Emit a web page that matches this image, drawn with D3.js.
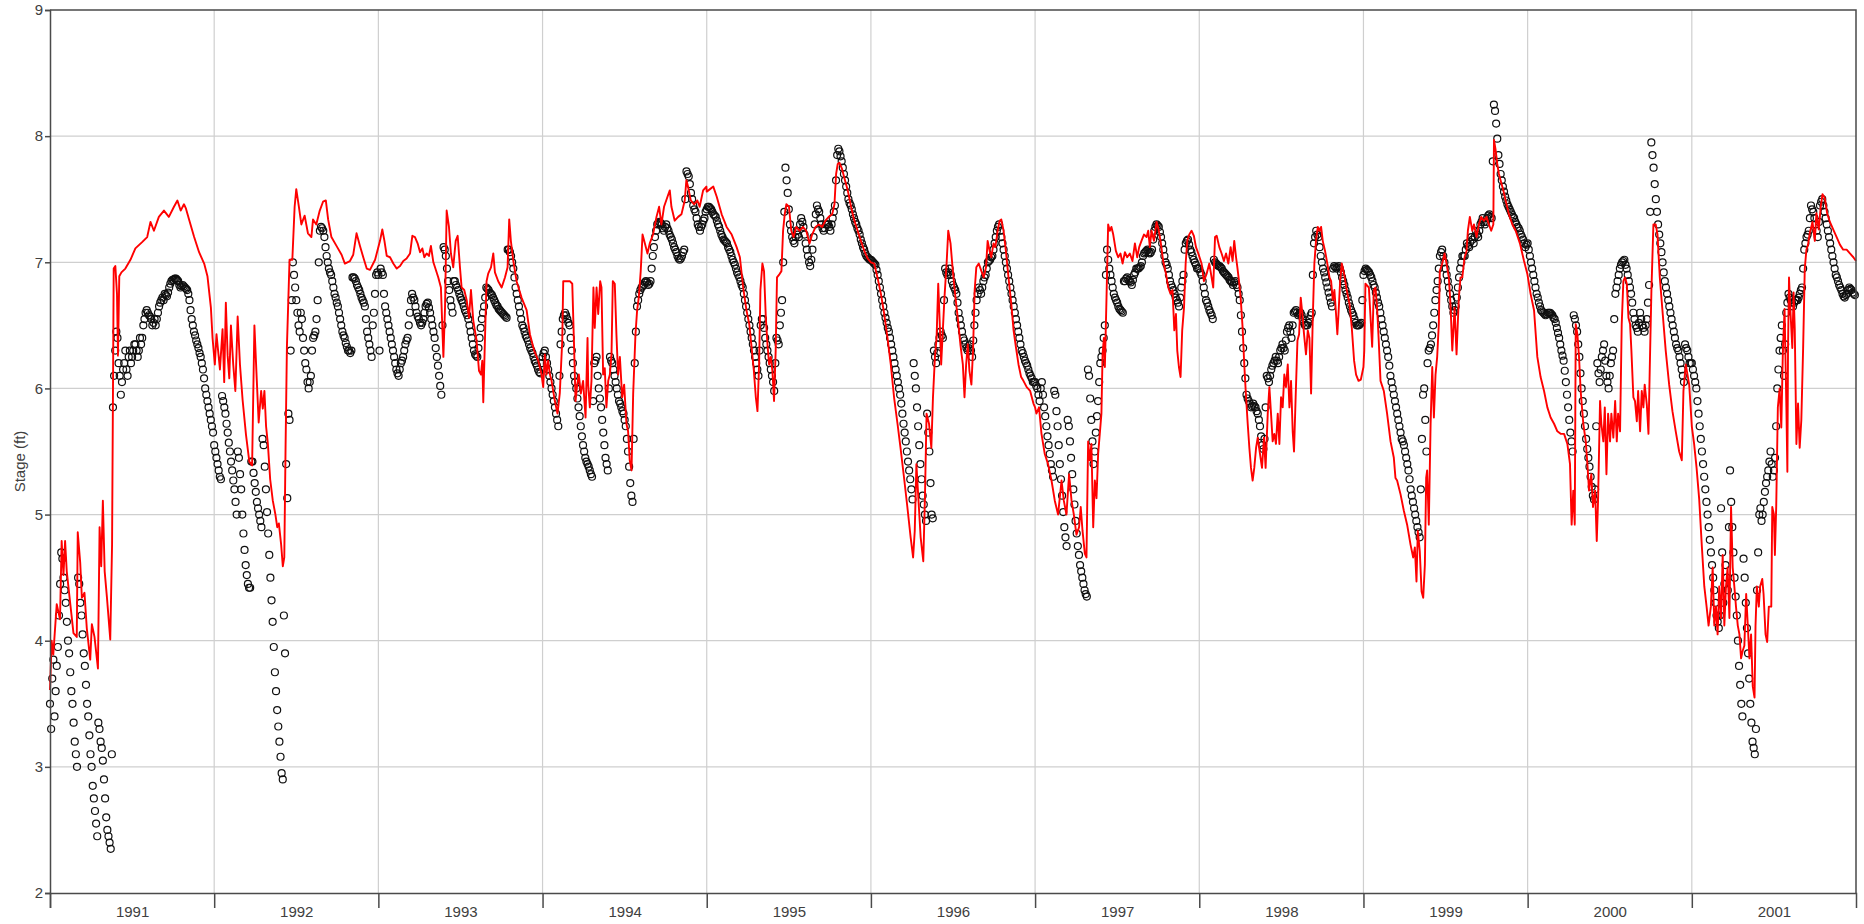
<!DOCTYPE html>
<html><head><meta charset="utf-8">
<script src="https://cdn.jsdelivr.net/npm/d3@7"></script>
<style>
html,body{margin:0;padding:0;background:#fff;}
svg{display:block;font-family:"Liberation Sans",Arial,Helvetica,sans-serif;}
</style></head><body>
<svg id="chart" width="1864" height="924"></svg>
<script>
// ---- categories / tick labels ----
const years = [1991,1992,1993,1994,1995,1996,1997,1998,1999,2000,2001];
const yTicks = [2,3,4,5,6,7,8,9];
const yLabel = "Stage (ft)";

// ---- simulated stage (red line): [fraction of year, stage ft] ----
const sim1991 = [[0,3.61],[0.010,4.0],[0.020,3.89],[0.041,4.29],[0.061,4.17],[0.071,4.79],[0.082,4.52],[0.092,4.79],[0.102,4.55],[0.122,4.31],[0.143,4.06],[0.163,4.03],[0.169,4.86],[0.184,4.62],[0.194,4.34],[0.210,4.38],[0.224,4.10],[0.245,3.85],[0.255,4.13],[0.271,4.03],[0.292,3.78],[0.302,4.90],[0.312,4.59],[0.322,5.11],[0.333,4.55],[0.347,4.34],[0.367,4.01],[0.378,4.76],[0.388,6.95],[0.398,6.97],[0.408,6.75],[0.414,6.26],[0.422,6.89],[0.435,6.92],[0.459,6.95],[0.490,7.02],[0.520,7.11],[0.561,7.16],[0.592,7.20],[0.612,7.32],[0.633,7.25],[0.663,7.36],[0.694,7.41],[0.724,7.36],[0.755,7.44],[0.776,7.49],[0.796,7.41],[0.816,7.46],[0.827,7.43],[0.847,7.34],[0.878,7.20],[0.908,7.08],[0.939,6.99],[0.959,6.89],[0.980,6.64],[0.990,6.40]];
const sim1992 = [[0.004,6.19],[0.014,6.43],[0.027,6.26],[0.035,6.15],[0.051,6.47],[0.061,6.05],[0.071,6.68],[0.082,6.26],[0.092,6.08],[0.102,6.50],[0.116,6.19],[0.129,5.98],[0.143,6.57],[0.157,6.19],[0.173,5.91],[0.194,5.63],[0.214,5.42],[0.231,5.39],[0.245,6.50],[0.259,6.08],[0.271,5.73],[0.286,5.98],[0.296,5.84],[0.306,5.98],[0.316,5.70],[0.327,5.56],[0.341,5.28],[0.357,5.11],[0.373,5.00],[0.384,4.90],[0.394,4.93],[0.408,4.76],[0.418,4.59],[0.427,4.66],[0.435,5.56],[0.443,6.33],[0.459,7.02],[0.476,7.02],[0.490,7.44],[0.500,7.58],[0.516,7.44],[0.531,7.30],[0.551,7.37],[0.571,7.23],[0.592,7.20],[0.602,7.34],[0.622,7.30],[0.643,7.41],[0.663,7.48],[0.680,7.49],[0.694,7.34],[0.714,7.20],[0.745,7.13],[0.776,7.06],[0.796,6.99],[0.827,7.01],[0.847,7.06],[0.867,7.23],[0.888,7.13],[0.908,7.04],[0.929,6.95],[0.949,6.94],[0.980,7.02]];
const sim1993 = [[0.010,7.17],[0.024,7.26],[0.037,7.17],[0.051,7.05],[0.071,7.04],[0.091,6.99],[0.112,6.95],[0.132,6.97],[0.152,7.01],[0.172,7.03],[0.193,7.07],[0.207,7.21],[0.223,7.20],[0.239,7.15],[0.254,7.08],[0.268,7.11],[0.280,7.04],[0.294,7.07],[0.308,7.05],[0.320,7.13],[0.335,7.0],[0.345,6.96],[0.365,6.88],[0.381,6.80],[0.396,6.25],[0.406,6.64],[0.416,7.41],[0.430,7.28],[0.442,7.07],[0.456,6.96],[0.471,7.17],[0.483,7.21],[0.497,6.96],[0.507,6.80],[0.523,6.78],[0.538,6.7],[0.552,6.56],[0.564,6.78],[0.578,6.54],[0.598,6.38],[0.613,6.14],[0.625,6.11],[0.633,6.22],[0.639,5.89],[0.649,6.38],[0.659,6.85],[0.669,6.91],[0.686,6.96],[0.700,7.07],[0.710,6.92],[0.730,6.85],[0.751,6.80],[0.771,6.88],[0.787,6.96],[0.797,7.34],[0.807,7.17],[0.822,7.01],[0.842,6.85],[0.872,6.72],[0.903,6.62],[0.923,6.43],[0.949,6.30],[0.974,6.22],[0.994,6.11]];
const sim1994 = [[0.004,6.01],[0.014,6.27],[0.024,6.11],[0.034,6.22],[0.045,6.11],[0.055,6.06],[0.075,5.90],[0.091,5.80],[0.105,5.96],[0.120,6.38],[0.126,6.85],[0.146,6.85],[0.166,6.85],[0.181,6.83],[0.191,6.38],[0.201,5.90],[0.211,6.03],[0.221,6.11],[0.233,5.96],[0.247,6.06],[0.262,5.77],[0.274,6.40],[0.278,6.03],[0.288,5.85],[0.298,6.06],[0.310,6.80],[0.318,6.48],[0.329,6.80],[0.339,6.59],[0.351,6.85],[0.359,6.80],[0.369,6.11],[0.379,6.16],[0.389,5.85],[0.400,6.06],[0.410,6.11],[0.420,6.27],[0.428,6.85],[0.440,6.83],[0.450,6.43],[0.460,6.11],[0.471,6.25],[0.485,5.93],[0.497,6.03],[0.511,5.72],[0.521,5.66],[0.531,5.43],[0.542,5.35],[0.552,5.96],[0.566,6.43],[0.576,6.62],[0.586,6.72],[0.598,6.93],[0.609,7.22],[0.623,7.15],[0.639,7.07],[0.653,7.15],[0.673,7.22],[0.694,7.36],[0.710,7.44],[0.724,7.30],[0.740,7.44],[0.761,7.52],[0.775,7.57],[0.785,7.44],[0.805,7.33],[0.826,7.36],[0.846,7.38],[0.866,7.49],[0.876,7.65],[0.886,7.6],[0.903,7.49],[0.923,7.46],[0.943,7.49],[0.957,7.44],[0.978,7.57],[0.998,7.6]];
const sim1995 = [[0.0,7.56],[0.020,7.58],[0.040,7.6],[0.061,7.52],[0.091,7.38],[0.121,7.28],[0.152,7.22],[0.182,7.12],[0.202,7.04],[0.222,6.8],[0.242,6.62],[0.259,6.51],[0.273,6.33],[0.287,6.14],[0.299,5.93],[0.309,5.82],[0.319,6.19],[0.327,6.78],[0.339,6.99],[0.349,6.93],[0.360,6.56],[0.370,6.35],[0.380,6.19],[0.390,6.25],[0.400,6.14],[0.410,5.90],[0.420,6.3],[0.428,6.88],[0.440,6.9],[0.455,6.93],[0.465,7.25],[0.475,7.38],[0.485,7.46],[0.501,7.44],[0.515,7.25],[0.529,7.2],[0.545,7.28],[0.566,7.25],[0.586,7.28],[0.606,7.25],[0.626,7.15],[0.642,7.22],[0.663,7.28],[0.683,7.3],[0.703,7.28],[0.723,7.33],[0.743,7.36],[0.764,7.38],[0.778,7.46],[0.788,7.70],[0.798,7.78],[0.808,7.79],[0.824,7.74],[0.838,7.67],[0.859,7.57],[0.879,7.44],[0.899,7.33],[0.919,7.25],[0.939,7.17],[0.960,7.09],[0.980,7.03]];
const sim1996 = [[0.0,7.0],[0.020,6.99],[0.040,6.88],[0.061,6.75],[0.081,6.59],[0.101,6.40],[0.121,6.19],[0.141,5.93],[0.162,5.72],[0.182,5.51],[0.202,5.29],[0.222,5.06],[0.242,4.82],[0.257,4.66],[0.267,4.87],[0.277,5.4],[0.289,5.13],[0.303,4.82],[0.319,4.63],[0.329,5.13],[0.339,5.80],[0.354,5.72],[0.368,5.53],[0.378,5.93],[0.390,6.25],[0.400,6.40],[0.410,6.83],[0.418,6.56],[0.428,6.19],[0.438,6.46],[0.448,6.72],[0.461,6.99],[0.471,7.25],[0.485,7.15],[0.499,6.93],[0.515,6.72],[0.529,6.56],[0.545,6.35],[0.560,6.19],[0.570,5.93],[0.580,6.19],[0.590,6.35],[0.600,6.14],[0.612,6.03],[0.622,6.30],[0.632,6.78],[0.642,6.96],[0.657,6.99],[0.673,6.93],[0.687,6.88],[0.701,6.96],[0.711,7.17],[0.723,7.09],[0.733,7.04],[0.747,7.15],[0.758,7.12],[0.772,7.25],[0.784,7.33],[0.794,7.34],[0.808,7.25],[0.822,7.09],[0.838,6.88],[0.855,6.67],[0.869,6.46],[0.883,6.33],[0.899,6.19],[0.915,6.09],[0.929,6.06],[0.949,6.01],[0.970,5.98],[0.990,5.88]];
const sim1997 = [[0.0,5.85],[0.008,5.8],[0.024,5.85],[0.039,5.64],[0.059,5.48],[0.079,5.40],[0.100,5.27],[0.120,5.11],[0.140,5.0],[0.161,5.27],[0.175,5.11],[0.191,5.0],[0.207,5.32],[0.222,5.11],[0.236,5.0],[0.252,4.84],[0.268,4.9],[0.278,5.06],[0.289,4.87],[0.303,4.69],[0.313,4.66],[0.323,5.58],[0.333,5.43],[0.343,5.56],[0.354,4.9],[0.364,5.27],[0.374,5.13],[0.384,5.48],[0.394,5.64],[0.404,5.80],[0.411,6.27],[0.419,6.40],[0.425,6.17],[0.435,6.72],[0.445,7.30],[0.455,7.25],[0.465,7.28],[0.476,7.22],[0.492,7.09],[0.506,7.04],[0.520,7.07],[0.533,6.99],[0.547,7.08],[0.561,7.04],[0.577,7.07],[0.593,7.01],[0.608,7.15],[0.622,7.04],[0.634,7.12],[0.648,7.17],[0.663,7.22],[0.679,7.2],[0.689,7.25],[0.699,7.12],[0.709,7.25],[0.724,7.17],[0.740,7.32],[0.752,7.26],[0.764,7.17],[0.780,7.01],[0.797,6.91],[0.811,6.8],[0.825,6.75],[0.837,6.78],[0.848,6.46],[0.858,6.59],[0.866,6.30],[0.876,6.17],[0.886,6.09],[0.896,6.46],[0.907,6.64],[0.917,6.99],[0.927,7.17],[0.939,7.22],[0.953,7.25],[0.967,7.21],[0.980,7.12],[0.994,7.07]];
const sim1998 = [[0.014,6.99],[0.028,6.85],[0.045,6.91],[0.061,6.99],[0.075,6.88],[0.085,6.80],[0.096,7.20],[0.106,7.21],[0.122,7.12],[0.136,7.07],[0.150,7.01],[0.163,7.07],[0.177,6.99],[0.191,7.12],[0.203,7.01],[0.213,7.17],[0.224,7.04],[0.232,6.96],[0.242,6.85],[0.252,6.72],[0.264,6.48],[0.274,6.19],[0.285,5.93],[0.295,5.72],[0.305,5.53],[0.315,5.37],[0.325,5.27],[0.335,5.37],[0.346,5.53],[0.356,5.61],[0.370,5.48],[0.382,5.37],[0.394,5.61],[0.404,5.37],[0.417,5.80],[0.427,6.01],[0.437,5.80],[0.447,5.58],[0.457,5.64],[0.467,5.56],[0.478,5.80],[0.488,5.56],[0.498,5.93],[0.508,5.85],[0.518,6.11],[0.528,6.01],[0.539,6.19],[0.549,5.85],[0.559,6.06],[0.569,5.66],[0.577,5.50],[0.587,5.93],[0.598,6.38],[0.608,6.43],[0.618,6.72],[0.628,6.59],[0.638,6.43],[0.650,6.27],[0.661,6.46],[0.671,6.40],[0.681,5.96],[0.691,6.54],[0.701,6.99],[0.711,7.17],[0.722,7.28],[0.732,7.25],[0.742,7.28],[0.752,7.17],[0.766,7.09],[0.780,6.99],[0.793,6.88],[0.803,6.85],[0.813,6.70],[0.823,6.78],[0.833,6.59],[0.841,6.43],[0.848,6.59],[0.858,6.85],[0.868,6.99],[0.882,6.91],[0.898,6.78],[0.915,6.67],[0.929,6.48],[0.943,6.22],[0.955,6.11],[0.970,6.06],[0.984,6.07],[1.0,6.17]];
const sim1999 = [[0.005,6.3],[0.012,6.83],[0.033,6.80],[0.053,6.33],[0.063,6.78],[0.073,6.8],[0.083,6.64],[0.093,6.38],[0.104,6.06],[0.124,5.98],[0.144,5.80],[0.165,5.58],[0.185,5.45],[0.195,5.29],[0.205,5.27],[0.226,5.16],[0.246,5.03],[0.266,4.92],[0.287,4.76],[0.303,4.66],[0.313,4.74],[0.323,4.47],[0.331,4.87],[0.343,4.71],[0.354,4.39],[0.364,4.34],[0.374,4.60],[0.382,5.29],[0.388,5.35],[0.398,4.92],[0.409,5.72],[0.419,6.17],[0.429,5.77],[0.439,6.11],[0.449,6.25],[0.459,6.51],[0.465,6.93],[0.480,6.99],[0.494,7.07],[0.506,6.99],[0.520,6.88],[0.530,6.67],[0.541,6.30],[0.555,6.64],[0.567,6.27],[0.581,6.72],[0.591,6.88],[0.602,6.88],[0.616,7.04],[0.628,7.09],[0.636,7.25],[0.648,7.36],[0.663,7.25],[0.673,7.30],[0.689,7.2],[0.703,7.30],[0.717,7.36],[0.734,7.33],[0.750,7.36],[0.764,7.3],[0.778,7.25],[0.791,7.3],[0.795,7.97],[0.805,7.89],[0.815,7.78],[0.825,7.70],[0.835,7.65],[0.852,7.57],[0.866,7.49],[0.886,7.38],[0.907,7.30],[0.927,7.25],[0.953,7.15],[0.978,7.01],[0.998,6.91]];
const sim2000 = [[0.018,6.75],[0.039,6.62],[0.059,6.25],[0.079,6.09],[0.100,5.98],[0.120,5.85],[0.140,5.77],[0.161,5.72],[0.181,5.66],[0.201,5.64],[0.222,5.64],[0.242,5.56],[0.258,5.40],[0.268,4.92],[0.278,5.19],[0.287,4.92],[0.293,6.51],[0.303,6.43],[0.313,6.25],[0.323,5.98],[0.339,5.72],[0.354,5.58],[0.364,5.40],[0.374,5.19],[0.388,5.32],[0.398,5.06],[0.411,5.19],[0.421,4.79],[0.429,5.11],[0.441,5.90],[0.449,5.72],[0.461,5.58],[0.470,5.85],[0.480,5.32],[0.490,5.80],[0.502,5.58],[0.510,5.80],[0.522,5.61],[0.533,5.90],[0.543,5.58],[0.551,5.80],[0.563,5.66],[0.573,6.51],[0.583,6.85],[0.593,6.88],[0.604,6.83],[0.614,6.56],[0.624,6.51],[0.632,6.30],[0.644,5.93],[0.654,5.90],[0.665,5.74],[0.673,5.98],[0.685,5.66],[0.695,5.98],[0.705,5.85],[0.713,6.03],[0.726,5.87],[0.736,5.64],[0.744,6.17],[0.754,6.78],[0.766,7.30],[0.780,7.30],[0.791,7.22],[0.805,6.88],[0.821,6.62],[0.841,6.30],[0.862,6.03],[0.882,5.82],[0.902,5.66],[0.923,5.50],[0.939,5.43],[0.949,5.98],[0.963,6.19],[0.984,6.03],[1.0,5.70]];
const sim2001 = [[0.014,5.56],[0.029,5.37],[0.045,5.12],[0.061,4.75],[0.076,4.43],[0.090,4.27],[0.102,4.12],[0.116,4.27],[0.127,4.58],[0.137,4.12],[0.147,4.27],[0.157,4.05],[0.167,4.43],[0.178,4.18],[0.188,4.68],[0.198,4.12],[0.208,4.43],[0.218,4.58],[0.229,4.18],[0.239,5.06],[0.249,4.58],[0.259,4.43],[0.269,4.27],[0.280,4.12],[0.290,4.05],[0.300,3.86],[0.310,3.92],[0.320,3.96],[0.331,4.37],[0.341,4.12],[0.351,3.86],[0.361,4.05],[0.371,3.64],[0.382,3.55],[0.388,4.12],[0.396,4.43],[0.408,4.27],[0.416,4.43],[0.429,4.49],[0.437,4.37],[0.449,4.05],[0.459,3.99],[0.469,4.27],[0.484,4.27],[0.490,5.06],[0.500,5.0],[0.506,4.68],[0.514,5.06],[0.524,5.85],[0.535,6.0],[0.545,5.69],[0.555,6.32],[0.565,6.63],[0.576,5.85],[0.582,5.34],[0.586,6.32],[0.592,6.88],[0.600,6.63],[0.612,6.32],[0.620,6.76],[0.627,6.47],[0.637,5.56],[0.647,5.88],[0.657,5.53],[0.667,5.75],[0.678,6.32],[0.688,6.95],[0.698,7.10],[0.708,7.14],[0.718,7.23],[0.735,7.32],[0.749,7.17],[0.759,7.39],[0.773,7.26],[0.786,7.45],[0.796,7.54],[0.810,7.51],[0.824,7.39],[0.841,7.32],[0.861,7.26],[0.882,7.20],[0.902,7.14],[0.922,7.10],[0.943,7.10],[0.963,7.07],[0.984,7.04],[1.0,7.01]];

// ---- observed stage (open circles): values read at equal steps through each year ----
const obs1991 = [3.5,3.3,3.7,3.85,3.4,3.6,3.8,3.95,4.2,4.45,4.7,4.65,4.5,4.4,4.3,4.15,4.0,3.9,3.75,3.6,3.5,3.35,3.2,3.1,3.0,4.5,4.45,4.3,4.2,4.05,3.9,3.8,3.65,3.5,3.4,3.25,3.1,3.0,2.85,2.75,2.65,2.55,2.45,3.35,3.3,3.2,3.15,3.05,2.9,2.75,2.6,2.5,2.45,2.4,2.35,3.1,5.85,6.1,6.3,6.45,6.4,6.2,6.1,5.95,6.05,6.15,6.2,6.3,6.15,6.1,6.25,6.3,6.2,6.25,6.3,6.35,6.35,6.3,6.25,6.3,6.4,6.35,6.4,6.5,6.55,6.6,6.62,6.6,6.58,6.57,6.55,6.5,6.52,6.55,6.5,6.55,6.6,6.65,6.68,6.7,6.72,6.7,6.75,6.74,6.73,6.76,6.8,6.83,6.85,6.86,6.86,6.87,6.87,6.86,6.85,6.82,6.8,6.81,6.82,6.81,6.8,6.79,6.78,6.75,6.7,6.62,6.55,6.5,6.45,6.42,6.38,6.35,6.32,6.28,6.25,6.2,6.15,6.08,6.0,5.95,5.9,5.85,5.8,5.75,5.7,5.65];
const obs1992 = [5.55,5.5,5.45,5.4,5.35,5.3,5.28,5.94,5.9,5.85,5.8,5.72,5.65,5.57,5.5,5.42,5.35,5.27,5.2,5.1,5.0,5.5,5.45,5.32,5.2,5.0,4.85,4.72,4.6,4.52,4.45,4.42,4.42,5.42,5.42,5.33,5.25,5.18,5.1,5.05,5.0,4.95,4.9,5.6,5.55,5.38,5.2,5.02,4.85,4.68,4.5,4.32,4.15,3.95,3.75,3.6,3.45,3.32,3.2,3.08,2.95,2.9,4.2,3.9,5.4,5.13,5.8,5.75,6.3,6.7,7.0,6.9,6.8,6.7,6.6,6.5,6.45,6.6,6.55,6.4,6.3,6.2,6.15,6.05,6.0,6.05,6.1,6.3,6.4,6.42,6.45,6.55,6.7,7.0,7.25,7.28,7.27,7.25,7.2,7.12,7.05,7.0,6.95,6.92,6.9,6.85,6.8,6.75,6.72,6.68,6.65,6.6,6.55,6.5,6.45,6.42,6.4,6.36,6.33,6.3,6.3,6.28,6.3,6.88,6.88,6.87,6.85,6.82,6.8,6.78,6.75,6.72,6.7,6.68,6.65,6.55,6.45,6.4,6.35,6.3,6.25,6.5,6.6,6.75,6.9,6.92];
const obs1993 = [6.9,6.3,6.95,6.92,6.9,6.75,6.65,6.6,6.55,6.5,6.45,6.4,6.35,6.3,6.25,6.2,6.15,6.12,6.1,6.15,6.2,6.22,6.25,6.3,6.35,6.38,6.4,6.5,6.6,6.7,6.75,6.72,6.7,6.65,6.6,6.57,6.55,6.52,6.5,6.52,6.55,6.6,6.65,6.67,6.68,6.64,6.6,6.55,6.5,6.45,6.4,6.32,6.25,6.18,6.1,6.02,5.95,6.5,7.12,7.1,7.05,6.95,6.85,6.78,6.7,6.65,6.6,6.85,6.85,6.82,6.8,6.78,6.75,6.72,6.7,6.68,6.65,6.62,6.6,6.58,6.55,6.5,6.45,6.4,6.35,6.3,6.27,6.26,6.25,6.32,6.4,6.48,6.55,6.6,6.65,6.72,6.8,6.79,6.78,6.76,6.75,6.74,6.72,6.7,6.68,6.66,6.65,6.63,6.62,6.61,6.6,6.59,6.58,6.57,6.56,7.1,7.1,7.08,7.05,7.0,6.95,6.88,6.8,6.75,6.7,6.65,6.6,6.55,6.5,6.48,6.45,6.42,6.4,6.38,6.35,6.32,6.3,6.28,6.25,6.22,6.2,6.18,6.15,6.13,6.12,6.2];
const obs1994 = [6.25,6.28,6.3,6.25,6.2,6.15,6.1,6.05,6.0,5.95,5.9,5.85,5.8,5.75,5.7,6.1,6.35,6.45,6.55,6.58,6.6,6.58,6.55,6.52,6.5,6.4,6.3,6.2,6.1,6.05,6.0,5.92,5.85,5.78,5.7,5.62,5.55,5.5,5.45,5.42,5.4,5.38,5.35,5.32,5.3,5.9,6.2,6.22,6.25,6.1,6.0,5.92,5.85,5.75,5.65,5.55,5.45,5.4,5.35,6.0,6.25,6.22,6.2,6.15,6.1,6.05,6.0,5.95,5.9,5.88,5.85,5.82,5.8,5.75,5.7,5.6,5.5,5.38,5.25,5.15,5.1,5.6,6.2,6.45,6.65,6.7,6.75,6.78,6.8,6.81,6.82,6.84,6.85,6.84,6.82,6.83,6.85,6.95,7.05,7.12,7.2,7.25,7.3,7.31,7.32,7.31,7.3,7.27,7.25,7.28,7.3,7.27,7.25,7.22,7.2,7.18,7.15,7.12,7.1,7.08,7.05,7.03,7.02,7.03,7.05,7.08,7.1,7.5,7.72,7.7,7.68,7.62,7.55,7.5,7.45,7.42,7.4,7.35,7.3,7.28,7.25,7.28,7.3,7.33,7.35,7.4];
const obs1995 = [7.42,7.44,7.44,7.43,7.42,7.4,7.38,7.37,7.36,7.33,7.3,7.28,7.25,7.22,7.2,7.18,7.17,7.16,7.15,7.12,7.1,7.08,7.05,7.02,7.0,6.98,6.95,6.92,6.9,6.88,6.85,6.82,6.8,6.75,6.7,6.65,6.6,6.55,6.5,6.45,6.4,6.35,6.3,6.25,6.2,6.15,6.1,6.3,6.5,6.55,6.55,6.48,6.4,6.35,6.3,6.25,6.2,6.15,6.1,6.05,5.98,6.2,6.4,6.38,6.35,6.5,6.6,6.7,7.0,7.4,7.75,7.65,7.55,7.42,7.3,7.25,7.2,7.17,7.15,7.2,7.25,7.22,7.2,7.3,7.35,7.32,7.28,7.22,7.15,7.1,7.05,7.0,6.97,7.02,7.1,7.2,7.3,7.38,7.45,7.42,7.4,7.35,7.3,7.27,7.25,7.27,7.3,7.3,7.3,7.28,7.25,7.3,7.35,7.4,7.45,7.65,7.85,7.9,7.88,7.84,7.8,7.75,7.7,7.65,7.6,7.55,7.5,7.47,7.45,7.42,7.38,7.35,7.32,7.3,7.27,7.25,7.22,7.18,7.15,7.12,7.1,7.07,7.05,7.04,7.03,7.02];
const obs1996 = [7.02,7.01,7.0,6.99,6.98,6.94,6.9,6.85,6.8,6.75,6.7,6.65,6.6,6.56,6.52,6.48,6.45,6.4,6.35,6.3,6.25,6.2,6.15,6.1,6.05,6.0,5.95,5.88,5.8,5.72,5.65,5.58,5.5,5.42,5.35,5.28,5.2,5.12,6.2,6.1,6.0,5.85,5.7,5.55,5.4,5.28,5.15,5.08,5.0,4.95,5.8,5.65,5.5,5.25,5.0,4.97,6.3,6.25,6.2,6.28,6.35,6.4,6.45,6.42,6.4,6.7,6.95,6.92,6.9,6.92,6.95,6.9,6.85,6.82,6.8,6.78,6.75,6.68,6.6,6.55,6.5,6.45,6.4,6.38,6.35,6.32,6.3,6.32,6.35,6.3,6.25,6.38,6.5,6.6,6.7,6.75,6.8,6.78,6.75,6.8,6.85,6.88,6.9,6.95,7.0,7.01,7.02,7.04,7.05,7.1,7.15,7.2,7.25,7.28,7.3,7.25,7.2,7.15,7.1,7.05,7.0,6.95,6.9,6.85,6.8,6.75,6.7,6.65,6.6,6.55,6.5,6.45,6.4,6.35,6.3,6.28,6.25,6.22,6.2,6.18,6.15,6.12,6.1,6.08,6.05,6.05];
const obs1997 = [6.05,6.02,6.0,5.95,5.9,6.0,6.05,5.95,5.85,5.78,5.7,5.62,5.55,5.48,5.4,5.35,5.3,5.98,5.95,5.82,5.7,5.55,5.4,5.28,5.15,5.02,4.9,4.82,4.75,5.75,5.7,5.58,5.45,5.32,5.2,5.08,4.95,4.85,4.75,4.68,4.6,4.55,4.5,4.45,4.4,4.37,4.35,6.15,6.1,5.92,5.75,5.58,5.4,5.5,5.65,5.78,5.9,6.05,6.2,6.25,6.3,6.4,6.5,6.9,7.1,7.02,6.95,6.9,6.85,6.8,6.75,6.72,6.7,6.68,6.65,6.63,6.62,6.61,6.6,6.85,6.85,6.87,6.88,6.86,6.85,6.84,6.82,6.86,6.9,6.92,6.95,6.95,6.95,6.96,6.97,7.0,7.05,7.07,7.08,7.09,7.1,7.08,7.07,7.08,7.1,7.18,7.25,7.28,7.3,7.29,7.28,7.24,7.2,7.15,7.1,7.05,7.0,6.98,6.95,6.9,6.85,6.82,6.8,6.78,6.75,6.72,6.7,6.68,6.65,6.72,6.8,6.85,6.9,7.1,7.15,7.17,7.18,7.14,7.1,7.08,7.05,7.02,7.0,6.98,6.95,6.95];
const obs1998 = [6.95,6.92,6.9,6.85,6.8,6.75,6.7,6.68,6.65,6.62,6.6,6.58,6.55,7.02,7.0,6.99,6.98,6.97,6.97,6.96,6.95,6.93,6.92,6.91,6.9,6.89,6.88,6.86,6.85,6.84,6.82,6.84,6.85,6.82,6.8,6.75,6.7,6.58,6.45,6.32,6.2,6.08,5.95,5.92,5.9,5.88,5.85,5.86,5.88,5.86,5.85,5.82,5.8,5.75,5.7,5.62,5.55,5.52,5.6,5.85,6.1,6.08,6.05,6.1,6.15,6.18,6.2,6.22,6.25,6.22,6.2,6.25,6.3,6.32,6.35,6.32,6.3,6.38,6.45,6.48,6.5,6.45,6.4,6.5,6.6,6.61,6.62,6.6,6.58,6.59,6.6,6.58,6.55,6.52,6.5,6.5,6.5,6.52,6.55,6.58,6.6,6.9,7.15,7.2,7.25,7.22,7.2,7.12,7.05,7.0,6.95,6.92,6.88,6.84,6.8,6.76,6.72,6.68,6.65,6.95,6.97,6.96,6.95,6.96,6.97,6.95,6.92,6.88,6.85,6.82,6.78,6.75,6.72,6.68,6.65,6.62,6.6,6.58,6.55,6.52,6.5,6.5,6.5,6.51,6.52,6.7];
const obs1999 = [6.9,6.93,6.95,6.94,6.93,6.92,6.9,6.88,6.85,6.82,6.8,6.76,6.72,6.68,6.65,6.6,6.55,6.5,6.45,6.4,6.35,6.3,6.25,6.18,6.1,6.05,6.0,5.95,5.9,5.85,5.8,5.75,5.7,5.65,5.6,5.58,5.55,5.5,5.45,5.4,5.35,5.28,5.2,5.15,5.1,5.05,5.0,4.95,4.9,4.86,4.82,5.2,5.6,5.95,6.0,5.75,5.5,6.2,6.3,6.32,6.35,6.42,6.5,6.6,6.7,6.78,6.85,6.95,7.05,7.08,7.1,7.05,7.0,6.95,6.9,6.85,6.8,6.75,6.7,6.65,6.6,6.62,6.65,6.72,6.8,6.88,6.95,7.0,7.05,7.05,7.05,7.1,7.15,7.13,7.12,7.16,7.2,7.18,7.15,7.2,7.25,7.22,7.2,7.25,7.3,7.32,7.35,7.32,7.3,7.32,7.35,7.37,7.38,7.36,7.35,7.8,8.25,8.2,8.1,7.98,7.85,7.78,7.7,7.65,7.6,7.56,7.52,7.49,7.46,7.44,7.42,7.4,7.38,7.36,7.35,7.32,7.3,7.28,7.27,7.25,7.22,7.2,7.18,7.15,7.12,7.14];
const obs2000 = [7.15,7.1,7.05,7.0,6.95,6.9,6.85,6.8,6.75,6.72,6.68,6.65,6.62,6.61,6.6,6.59,6.58,6.59,6.6,6.6,6.6,6.59,6.58,6.56,6.55,6.52,6.48,6.44,6.4,6.35,6.3,6.26,6.22,6.14,6.05,5.95,5.85,5.75,5.65,5.58,5.5,6.58,6.55,6.5,6.45,6.35,6.25,6.12,6.0,5.9,5.8,5.7,5.6,5.52,5.45,5.38,5.3,5.22,5.15,5.12,5.2,5.7,6.2,6.12,6.05,6.15,6.25,6.3,6.35,6.22,6.1,6.05,6.0,6.1,6.2,6.25,6.3,6.55,6.75,6.8,6.85,6.9,6.95,6.98,7.0,7.01,7.02,6.98,6.95,6.9,6.85,6.8,6.75,6.68,6.6,6.55,6.5,6.48,6.45,6.52,6.6,6.55,6.5,6.48,6.45,6.5,6.55,6.68,6.82,7.4,7.95,7.85,7.75,7.62,7.5,7.4,7.3,7.22,7.15,7.08,7.0,6.92,6.85,6.8,6.75,6.7,6.65,6.6,6.55,6.5,6.45,6.4,6.35,6.32,6.3,6.25,6.2,6.15,6.1,6.05,6.35,6.32,6.3,6.25,6.2,6.2];
const obs2001 = [6.2,6.15,6.1,6.05,6.0,5.9,5.8,5.7,5.6,5.5,5.4,5.3,5.2,5.1,5.0,4.9,4.8,4.7,4.6,4.5,4.4,4.3,4.2,4.15,4.1,4.2,5.05,4.7,4.3,4.45,4.6,4.5,4.4,4.9,5.35,5.1,4.9,4.7,4.5,4.35,4.2,4.0,3.8,3.65,3.5,3.4,4.65,4.5,4.3,4.1,3.9,3.7,3.5,3.35,3.2,3.15,3.1,3.3,4.4,4.7,5.0,5.05,4.95,5.0,5.1,5.18,5.25,5.3,5.35,5.42,5.5,5.4,5.3,5.35,5.45,5.7,6.0,6.15,6.3,6.4,6.5,6.3,6.1,6.35,6.6,6.68,6.75,6.72,6.7,6.68,6.65,6.68,6.7,6.7,6.7,6.72,6.75,6.78,6.8,6.95,7.1,7.15,7.2,7.22,7.25,7.35,7.45,7.42,7.4,7.35,7.3,7.25,7.2,7.32,7.45,7.48,7.5,7.45,7.4,7.35,7.3,7.25,7.2,7.15,7.1,7.05,7.0,6.95,6.9,6.88,6.85,6.82,6.8,6.78,6.75,6.73,6.72,6.74,6.75,6.78,6.8,6.79,6.78,6.76,6.75,6.74];

const simSeries = [sim1991,sim1992,sim1993,sim1994,sim1995,sim1996,sim1997,sim1998,sim1999,sim2000,sim2001];
const obsSeries = [obs1991,obs1992,obs1993,obs1994,obs1995,obs1996,obs1997,obs1998,obs1999,obs2000,obs2001];

const simPts = years.flatMap((yr,i) => simSeries[i].map(([f,v]) => ({t: yr + f, v})));
const obsPts = years.flatMap((yr,i) => obsSeries[i].map((v,k,arr) => ({t: yr + k/arr.length, v}))).filter(d => d.v != null);

// ---- layout ----
const svg = d3.select("#chart");
const plotL = 50, plotR = 1856, plotT = 10, plotB = 893;
const x = d3.scaleLinear().domain([years[0], years[years.length-1] + 1]).range([plotL, plotR]);
const y = d3.scaleLinear().domain([yTicks[0], yTicks[yTicks.length-1]]).range([plotB, plotT]);

const gridColor = "#cfcfcf", axisColor = "#4a4a4a", textColor = "#404040";

// grid
svg.append("g").selectAll("line").data(yTicks.slice(1, -1)).join("line")
  .attr("x1", plotL).attr("x2", plotR).attr("y1", d => y(d)).attr("y2", d => y(d))
  .attr("stroke", gridColor).attr("stroke-width", 1.2);
svg.append("g").selectAll("line").data(years.slice(1)).join("line")
  .attr("x1", d => x(d)).attr("x2", d => x(d)).attr("y1", plotT).attr("y2", plotB)
  .attr("stroke", gridColor).attr("stroke-width", 1.2);

// observed circles
svg.append("g").selectAll("circle").data(obsPts).join("circle")
  .attr("cx", d => x(d.t)).attr("cy", d => y(d.v)).attr("r", 3.5)
  .attr("fill", "none").attr("stroke", "#101010").attr("stroke-width", 1.2);

// simulated line
svg.append("path").datum(simPts)
  .attr("d", d3.line().x(d => x(d.t)).y(d => y(d.v)))
  .attr("fill", "none").attr("stroke", "#ff0000").attr("stroke-width", 1.9)
  .attr("stroke-linejoin", "round");

// frame (top & right)
svg.append("path").attr("d", `M${plotL},${plotT}H${plotR}V${plotB}`)
  .attr("fill", "none").attr("stroke", axisColor).attr("stroke-width", 1.5);

// y axis
const yAxis = svg.append("g").attr("transform", `translate(${plotL},0)`)
  .call(d3.axisLeft(y).tickValues(yTicks).tickSize(5).tickPadding(2).tickFormat(d3.format("d")));
// x axis ticks at year boundaries
const xAxis = svg.append("g").attr("transform", `translate(0,${plotB})`)
  .call(d3.axisBottom(x).tickValues(years).tickSize(15).tickFormat(""));
// year labels centred in each year
const xLab = svg.append("g").attr("transform", `translate(0,${plotB})`)
  .call(d3.axisBottom(x).tickValues(years.map(yr => yr + 0.5)).tickSize(0).tickPadding(13).tickFormat(d => String(Math.floor(d))));
xLab.select(".domain").remove();

[yAxis, xAxis].forEach(g => {
  g.select(".domain").attr("stroke", axisColor).attr("stroke-width", 1.5);
  g.selectAll(".tick line").attr("stroke", axisColor).attr("stroke-width", 1.5);
});
[yAxis, xLab].forEach(g => g.selectAll("text")
  .attr("font-family", '"Liberation Sans", Arial, sans-serif')
  .attr("font-size", 15).attr("fill", textColor));

// y axis title
svg.append("text").attr("transform", `translate(20,${(plotT + plotB) / 2 + 10}) rotate(-90)`)
  .attr("text-anchor", "middle").attr("dy", "0.35em")
  .attr("font-family", '"Liberation Sans", Arial, sans-serif')
  .attr("font-size", 15).attr("fill", textColor).text(yLabel);
</script>
</body></html>
